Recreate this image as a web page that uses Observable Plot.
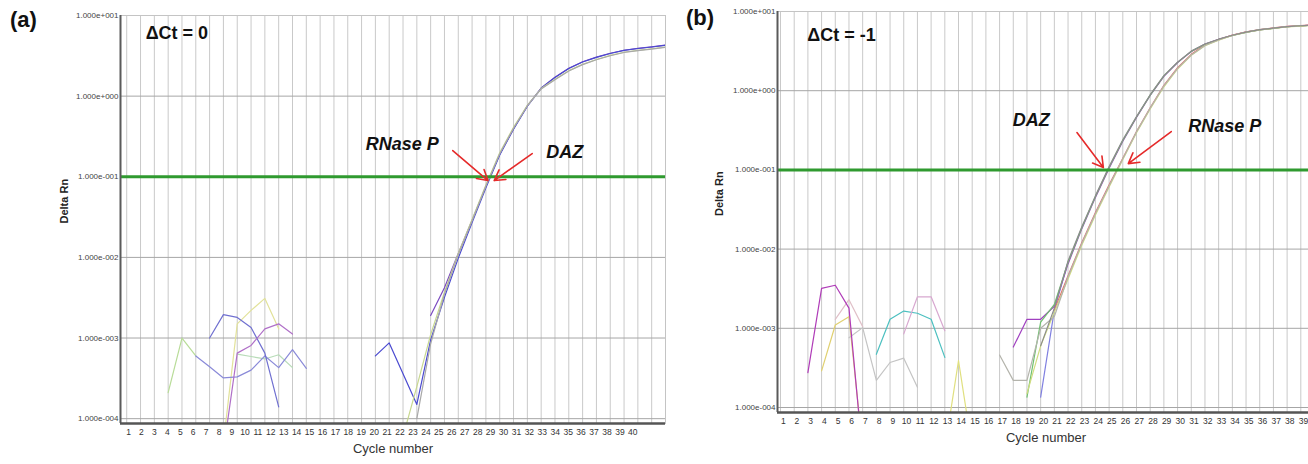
<!DOCTYPE html>
<html><head><meta charset="utf-8">
<script src="https://cdn.jsdelivr.net/npm/d3@7"></script>
<script src="https://cdn.jsdelivr.net/npm/@observablehq/plot@0.6"></script>
<style>
html,body{margin:0;padding:0;background:#fff;overflow:hidden;}
#wrap{position:relative;width:1308px;height:464px;overflow:hidden;font-family:"Liberation Sans",Arial,sans-serif;background:#fff;}
#wrap svg{position:absolute;overflow:visible;max-width:none;}
.tag{position:absolute;font-weight:bold;font-size:22px;line-height:22px;color:#111;}
</style></head><body>
<div id="wrap"><div class="tag" style="left:10px;top:9px">(a)</div><div class="tag" style="left:686px;top:7px">(b)</div></div>
<script>
// ---------- shared ticks ----------
const cycleTicks = [1,2,3,4,5,6,7,8,9,10,11,12,13,14,15,16,17,18,19,20,21,22,23,24,25,26,27,28,29,30,31,32,33,34,35,36,37,38,39,40];
const yTicks = [10, 1, 0.1, 0.01, 0.001, 0.0001];
const yTickLabels = ["1.000e+001","1.000e+000","1.000e-001","1.000e-002","1.000e-003","1.000e-004"];
const threshold = 0.1;

// ---------- panel (a): [cycle, Delta Rn] ----------
const aDAZ1 = [[19,6.0e-4],[20,8.7e-4],[21,3.6e-4],[22,1.5e-4],[23,9.5e-4],[24,0.0032],[25,0.0098],[26,0.027],[27,0.073],[28,0.186],[29,0.39],[30,0.75],[31,1.25],[32,1.7],[33,2.2],[34,2.65],[35,3.03],[36,3.38],[37,3.7],[38,3.9],[39,4.07],[40,4.27]];
const aDAZ2 = [[23,0.0019],[24,0.0042],[25,0.0112],[26,0.029],[27,0.076],[28,0.19],[29,0.395],[30,0.755],[31,1.26],[32,1.72],[33,2.22],[34,2.67],[35,3.05],[36,3.4],[37,3.71],[38,3.92],[39,4.09],[40,4.29]];
const aRNP1 = [[22,1.0e-4],[23,8.5e-4],[24,0.0035],[25,0.0108],[26,0.0285],[27,0.077],[28,0.193],[29,0.40],[30,0.76],[31,1.23],[32,1.6],[33,2.05],[34,2.46],[35,2.83],[36,3.17],[37,3.48],[38,3.66],[39,3.83],[40,4.02]];
const aRNP2 = [[21,6e-5],[22,2.5e-4],[23,1.1e-3],[24,0.0037],[25,0.0112],[26,0.0295],[27,0.079],[28,0.198],[29,0.41],[30,0.77],[31,1.24],[32,1.62],[33,2.07],[34,2.48],[35,2.85],[36,3.2],[37,3.5],[38,3.7],[39,3.87],[40,4.05]];
const aNoise1 = [[4,2.1e-4],[5,1.0e-3],[6,6.0e-4]];
const aNoise2 = [[6,6.0e-4],[7,4.4e-4],[8,3.2e-4],[9,3.3e-4],[10,4.0e-4],[11,6.0e-4],[12,4.3e-4],[13,7.2e-4],[14,4.2e-4]];
const aNoise3 = [[7,1.0e-3],[8,1.95e-3],[9,1.8e-3],[10,1.35e-3],[11,6.5e-4],[12,1.4e-4]];
const aNoise4 = [[8,4e-5],[9,6.5e-4],[10,8.1e-4],[11,1.3e-3],[12,1.5e-3],[13,1.12e-3]];
const aNoise5 = [[8,5e-5],[9,1.5e-3],[10,2.2e-3],[11,3.1e-3],[12,1.3e-3]];
const aNoise6 = [[9,6.3e-4],[10,5.9e-4],[11,5.5e-4],[12,6.2e-4],[13,4.3e-4]];

// ---------- panel (b) ----------
const bDAZ1 = [[20,6e-4],[21,1.8e-3],[22,7.1e-3],[23,0.019],[24,0.047],[25,0.11],[26,0.24],[27,0.47],[28,0.89],[29,1.55],[30,2.29],[31,3.16],[32,3.89],[33,4.47],[34,5.01],[35,5.5],[36,5.89],[37,6.17],[38,6.46],[39,6.61],[40,6.76]];
const bDAZ2 = [[18,5.8e-4],[19,1.3e-3],[20,1.3e-3],[21,1.9e-3],[22,6.5e-3],[23,0.018],[24,0.045],[25,0.105],[26,0.23],[27,0.46],[28,0.87],[29,1.52],[30,2.27],[31,3.13],[32,3.87],[33,4.45],[34,5.0],[35,5.48],[36,5.87],[37,6.15],[38,6.44],[39,6.6],[40,6.75]];
const bDAZ3 = [[19,1.35e-4],[20,1.2e-3],[21,2.0e-3],[22,6.8e-3],[23,0.0185],[24,0.046],[25,0.108],[26,0.235],[27,0.465],[28,0.88],[29,1.54],[30,2.28],[31,3.14],[32,3.86],[33,4.43],[34,4.98],[35,5.46],[36,5.85],[37,6.12],[38,6.42],[39,6.58],[40,6.72]];
const bDAZ4 = [[20,1.35e-4],[21,1.7e-3],[22,6.9e-3]];
const bRNP1 = [[17,4.6e-4],[18,2.2e-4],[19,2.2e-4],[20,1.0e-3],[21,1.41e-3],[22,4.47e-3],[23,0.0117],[24,0.0282],[25,0.063],[26,0.138],[27,0.302],[28,0.603],[29,1.15],[30,1.91],[31,2.82],[32,3.72],[33,4.37],[34,5.01],[35,5.5],[36,5.89],[37,6.17],[38,6.46],[39,6.61],[40,6.76]];
const bRNP2 = [[19,1.5e-4],[20,6e-4],[21,1.6e-3],[22,4.2e-3],[23,0.0112],[24,0.027],[25,0.061],[26,0.135],[27,0.295],[28,0.59],[29,1.12],[30,1.88],[31,2.8],[32,3.7],[33,4.35],[34,4.98],[35,5.45],[36,5.85],[37,6.1],[38,6.4],[39,6.55],[40,6.7]];
const bRNP3 = [[21,1.7e-3],[22,4.6e-3],[23,0.012],[24,0.029],[25,0.065],[26,0.14],[27,0.305],[28,0.61],[29,1.17],[30,1.95],[31,2.88],[32,3.8],[33,4.42],[34,5.05],[35,5.55],[36,5.92],[37,6.2],[38,6.5],[39,6.65],[40,6.8]];
const bNoise1 = [[3,2.75e-4],[4,3.2e-3],[5,3.5e-3],[6,1.8e-3],[7,2.5e-5]];
const bNoise2 = [[4,2.9e-4],[5,1.1e-3],[6,1.4e-3],[7,3e-5]];
const bNoise3 = [[5,1.3e-3],[6,2.3e-3],[7,1.05e-3]];
const bNoise4 = [[6,7.6e-4],[7,1.02e-3],[8,2.2e-4],[9,3.7e-4],[10,4.2e-4],[11,1.8e-4]];
const bNoise5 = [[8,4.7e-4],[9,1.3e-3],[10,1.65e-3],[11,1.55e-3],[12,1.3e-3],[13,4.3e-4]];
const bNoise6 = [[10,8.5e-4],[11,2.5e-3],[12,2.5e-3],[13,9.3e-4]];
const bNoise7 = [[13,3e-5],[14,3.9e-4],[15,3e-5]];

// ---------- annotations (data units) ----------
const aNotes = [{text:"ΔCt = 0", c:4.63, v:5.98, italic:false},
                {text:"RNase P", c:20.95, v:0.25, italic:true},
                {text:"DAZ", c:32.7, v:0.20, italic:true}];
const aArrows = [{c1:24.6, v1:0.211, c2:27.15, v2:0.0897},
                 {c1:30.35, v1:0.194, c2:27.6, v2:0.0897}];
const bNotes = [{text:"ΔCt = -1", c:5.45, v:5.05, italic:false},
                {text:"DAZ", c:19.32, v:0.42, italic:true},
                {text:"RNase P", c:33.44, v:0.353, italic:true}];
const bArrows = [{c1:22.65, v1:0.296, c2:24.58, v2:0.107},
                 {c1:29.54, v1:0.305, c2:26.40, v2:0.120}];

// draw order: first listed is drawn first (underneath)
const aSeries = [
  [aNoise1,"#b8dc98"],[aNoise6,"#b8dcb8"],[aNoise5,"#e2e29a"],[aNoise2,"#8a8ad8"],[aNoise3,"#7070d0"],[aNoise4,"#b070c8"],
  [aDAZ2,"#7a4ac0"],[aDAZ1,"#4a4ad0"],[aRNP2,"#c8d890"],[aRNP1,"#a8a8a8"]
];
const bSeries = [
  [bNoise2,"#e0d070"],[bNoise3,"#e0c0c8"],[bNoise4,"#c4c4c4"],[bNoise7,"#e0e080"],[bNoise5,"#4cc0c0"],[bNoise6,"#d8a8d0"],[bNoise1,"#b03cb8"],
  [bDAZ4,"#8080e0"],[bDAZ2,"#a040c0"],[bRNP3,"#e07070"],[bDAZ3,"#70c070"],[bRNP2,"#d0dc80"],[bRNP1,"#b4b4ac"],[bDAZ1,"#8c8c8c"]
];

const labelMap = new Map(yTicks.map((t,i)=>[t, yTickLabels[i]]));

function panel(o){
  const marks = [
    Plot.gridX({ticks: cycleTicks, stroke:"#c9c9c9", strokeOpacity:1, strokeWidth:1}),
    Plot.gridY({ticks: yTicks, stroke:"#a6a6a6", strokeOpacity:1, strokeWidth:1}),
    Plot.frame({stroke:"#c4c4c4"}),
    ...o.series.map(([pts,col]) => Plot.line(pts, {x: d=>d[0], y: d=>d[1], stroke: col, strokeWidth: 1.2, clip: true})),
    Plot.ruleY([threshold], {stroke:"#2f9a2f", strokeWidth:3}),
    Plot.ruleX([o.xDomain[0]], {stroke:"#5a5a5a", strokeWidth:2}),
    Plot.ruleY([o.yDomain[0]], {stroke:"#555", strokeWidth:2.5}),
    // cycle labels (the instrument software spaces them slightly tighter than the grid in panel a)
    Plot.text(cycleTicks, {x: d => o.lab0 + (d - 1) * o.labK, frameAnchor:"bottom", dy:11, fontSize:8.5, fill:"#333"}),
    Plot.axisY({ticks: yTicks, tickFormat: d => labelMap.get(d), tickSize:0, tickPadding:2, fontSize:8, color:"#444"}),
    Plot.text(["Cycle number"], {frameAnchor:"bottom", dy:29, fontSize:13, fill:"#333"}),
    Plot.text(["Delta Rn"], {frameAnchor:"left", dx:o.ylabDx, dy:o.ylabDy, rotate:-90, fontSize:11, fontWeight:"bold", fill:"#222"}),
    Plot.arrow(o.arrows, {x1:"c1", y1:"v1", x2:"c2", y2:"v2", stroke:"#e52a2a", strokeWidth:1.6, headLength:11, bend:0}),
    Plot.text(o.notes.filter(d => !d.italic), {x:"c", y:"v", text:"text", fontSize:18, fontWeight:"bold", fill:"#111"}),
    Plot.text(o.notes.filter(d => d.italic), {x:"c", y:"v", text:"text", fontSize:18, fontWeight:"bold", fontStyle:"italic", fill:"#111"})
  ];
  const svg = Plot.plot({
    width:o.width, height:464,
    marginLeft:o.ml, marginRight:o.mr, marginTop:o.mt, marginBottom:o.mb,
    style:{background:"transparent", fontFamily:"'Liberation Sans', Arial, sans-serif", overflow:"visible"},
    x:{domain:o.xDomain, axis:null},
    y:{type:"log", domain:o.yDomain},
    marks
  });
  svg.style.left = o.left + "px";
  svg.style.top = "0px";
  document.getElementById("wrap").appendChild(svg);
}

panel({left:0, width:668, ml:120, mr:3, mt:15, mb:41, xDomain:[0.55,40], yDomain:[Math.pow(10,-4.06),10],
       series:aSeries, notes:aNotes, arrows:aArrows, ylabDx:-56, ylabDy:4, lab0:1.13, labK:0.936});
panel({left:660, width:700, ml:117, mr:46, mt:11, mb:52, xDomain:[0.78,40], yDomain:[Math.pow(10,-4.063),10],
       series:bSeries, notes:bNotes, arrows:bArrows, ylabDx:-58, ylabDy:4, lab0:1.2, labK:1});
</script>
</body></html>
